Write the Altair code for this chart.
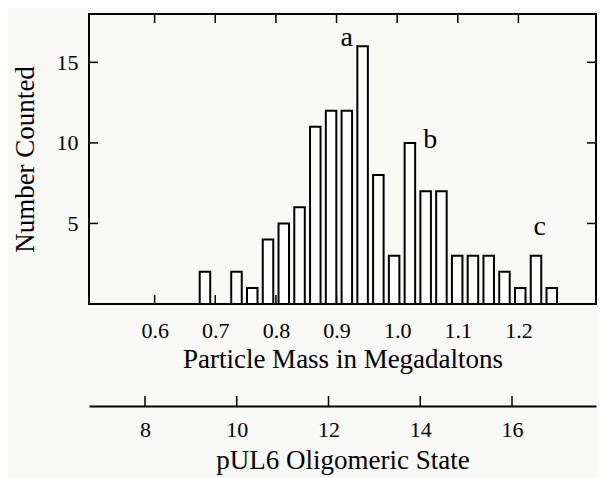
import altair as alt
import pandas as pd

# ---- data ----
mass_centers = [0.683, 0.735, 0.761, 0.787, 0.813, 0.839, 0.865, 0.891, 0.917,
                0.943, 0.969, 0.995, 1.021, 1.047, 1.073, 1.099, 1.125, 1.151,
                1.177, 1.203, 1.229, 1.255]
counts = [2, 2, 1, 4, 5, 6, 11, 12, 12, 16, 8, 3, 10, 7, 7, 3, 3, 3, 2, 1, 3, 1]

mass_ticks = [0.6, 0.7, 0.8, 0.9, 1.0, 1.1, 1.2]
count_ticks = [5, 10, 15]
state_ticks = [8, 10, 12, 14, 16]

peak_labels = ["a", "b", "c"]
peak_mass = [0.917, 1.0545, 1.235]
peak_count = [16.0, 9.68, 4.28]

FONT = "Liberation Serif"
W, H = 507, 290
mass_dom = [0.5, 1.3197]
count_dom = [0, 18]
state_dom = [6.779, 17.831]

bars_df = pd.DataFrame({"mass": mass_centers, "count": counts})
mt_df = pd.DataFrame({"mass": mass_ticks})
ct_df = pd.DataFrame({"count": count_ticks})
st_df = pd.DataFrame({"state": state_ticks})
lab_df = pd.DataFrame({"label": peak_labels, "mass": peak_mass, "count": peak_count})

xs = alt.Scale(domain=mass_dom, nice=False, zero=False)
ys = alt.Scale(domain=count_dom, nice=False)

x_axis = alt.Axis(
    orient="bottom",
    values=mass_ticks, format=".1f", ticks=False, domain=False, grid=False,
    labelFont=FONT, labelFontSize=22, labelColor="black", labelPadding=16,
    title="Particle Mass in Megadaltons", titleFont=FONT, titleFontSize=27,
    titleFontWeight="normal", titleColor="black", titlePadding=5)
y_axis = alt.Axis(
    orient="left",
    values=count_ticks, ticks=False, domain=False, grid=False,
    labelFont=FONT, labelFontSize=22, labelColor="black", labelPadding=11,
    title="Number Counted", titleFont=FONT, titleFontSize=27,
    titleFontWeight="normal", titleColor="black", titlePadding=17)

X = alt.X("mass:Q", scale=xs, axis=x_axis, title="Particle Mass in Megadaltons")
Y = alt.Y("count:Q", scale=ys, axis=y_axis, title="Number Counted")

bars = alt.Chart(bars_df).mark_bar(
    size=10.5, fill="white", stroke="black", strokeWidth=2
).encode(x=X, y=Y)

top_ticks = alt.Chart(mt_df).mark_rule(color="black", strokeWidth=1.5).encode(
    x=X, y=alt.value(0), y2=alt.value(9))
bot_ticks = alt.Chart(mt_df).mark_rule(color="black", strokeWidth=1.5).encode(
    x=X, y=alt.value(H - 9), y2=alt.value(H))
left_ticks = alt.Chart(ct_df).mark_rule(color="black", strokeWidth=1.5).encode(
    y=Y, x=alt.value(0), x2=alt.value(9))
right_ticks = alt.Chart(ct_df).mark_rule(color="black", strokeWidth=1.5).encode(
    y=Y, x=alt.value(W - 9), x2=alt.value(W))

letters = alt.Chart(lab_df).mark_text(
    font=FONT, fontSize=28, color="black", align="center", baseline="alphabetic"
).encode(x=X, y=Y, text="label:N")

main = alt.layer(bot_ticks, bars, top_ticks, left_ticks, right_ticks, letters)

OFF = 102
state_axis = alt.Chart(st_df).mark_rule(color="black", strokeWidth=1.5).encode(
    x=alt.X("state:Q", scale=alt.Scale(domain=state_dom, nice=False, zero=False),
            title="pUL6 Oligomeric State",
            axis=alt.Axis(values=state_ticks, format="d", orient="bottom", offset=OFF,
                          ticks=False, domain=True, domainColor="black", domainWidth=2,
                          grid=False, labelFont=FONT, labelFontSize=22,
                          labelColor="black", labelPadding=13,
                          title="pUL6 Oligomeric State", titleFont=FONT,
                          titleFontSize=27, titleFontWeight="normal",
                          titleColor="black", titlePadding=7)),
    y=alt.value(H + OFF - 10), y2=alt.value(H + OFF))

chart = alt.layer(main, state_axis).resolve_scale(x="independent").resolve_axis(
    x="independent"
).properties(
    width=W, height=H,
    autosize=alt.AutoSizeParams(type="none"),
    padding={"left": 81, "top": 6, "right": 1, "bottom": 180},
    background="#f8f8f6",
).configure_view(stroke="black", strokeWidth=2)

chart.save("out.html", embed_options={"renderer": "svg", "actions": False})
